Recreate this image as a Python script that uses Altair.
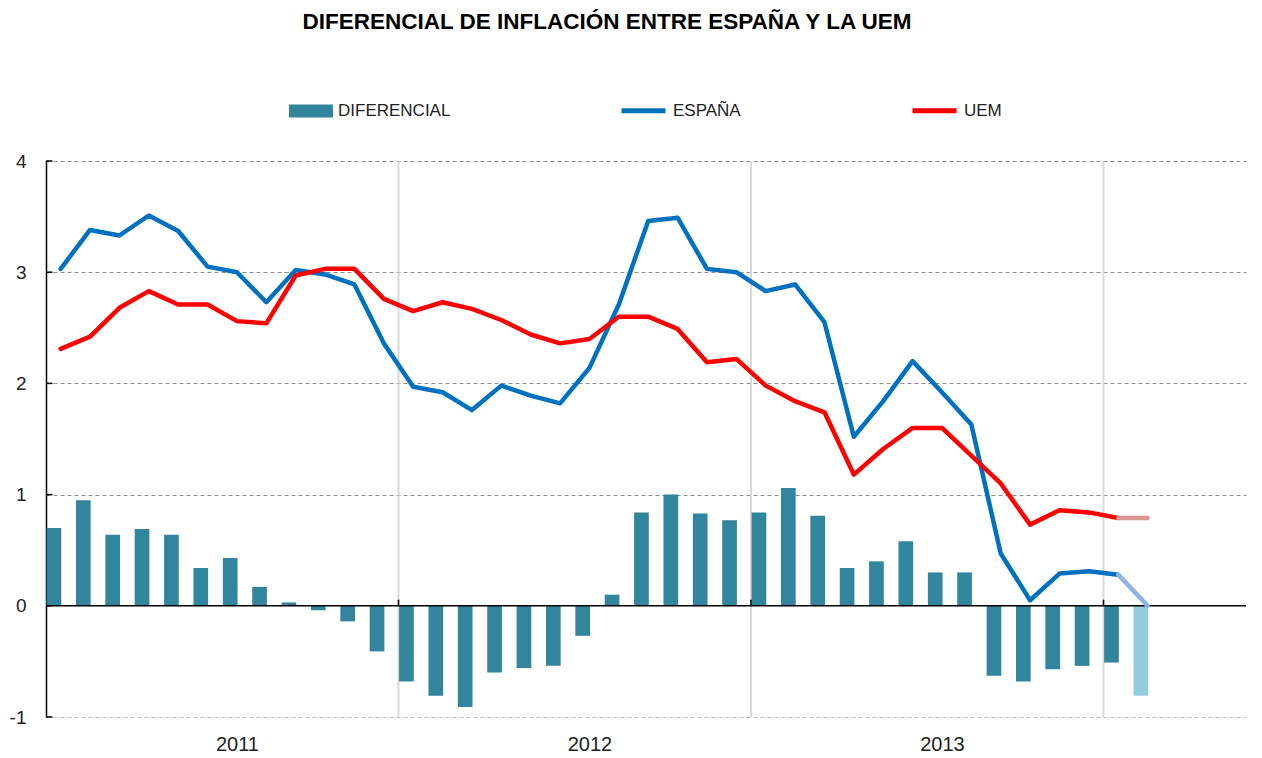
import altair as alt
import pandas as pd

# ---- data ----
meses = pd.date_range("2011-01-01", periods=38, freq="MS").strftime("%Y-%m").tolist()
anios = ["2011", "2012", "2013"]
espana = [3.03, 3.38, 3.33, 3.51, 3.37, 3.05, 3.00, 2.73, 3.02, 2.98, 2.89, 2.36,
          1.97, 1.92, 1.76, 1.98, 1.89, 1.82, 2.14, 2.71, 3.46, 3.49, 3.03, 3.00,
          2.83, 2.89, 2.55, 1.52, 1.84, 2.20, 1.92, 1.63, 0.47, 0.05, 0.29, 0.31,
          0.28, 0.00]
uem = [2.31, 2.42, 2.68, 2.83, 2.71, 2.71, 2.56, 2.54, 2.97, 3.03, 3.03, 2.76,
       2.65, 2.73, 2.67, 2.57, 2.44, 2.36, 2.40, 2.60, 2.60, 2.49, 2.19, 2.22,
       1.98, 1.84, 1.74, 1.18, 1.41, 1.60, 1.60, 1.35, 1.10, 0.73, 0.86, 0.84,
       0.79, 0.79]
diferencial = [0.70, 0.95, 0.64, 0.69, 0.64, 0.34, 0.43, 0.17, 0.03, -0.04, -0.14, -0.41,
               -0.68, -0.81, -0.91, -0.60, -0.56, -0.54, -0.27, 0.10, 0.84, 1.00, 0.83, 0.77,
               0.84, 1.06, 0.81, 0.34, 0.40, 0.58, 0.30, 0.30, -0.63, -0.68, -0.57, -0.54,
               -0.51, -0.81]
prevision = [False] * 37 + [True]
limites_anio = [12, 24, 36]
y_ticks = [-1, 0, 1, 2, 3, 4]

FONT = "Liberation Sans"
N = len(meses)
df = pd.DataFrame({"i": list(range(N)), "mes": meses, "ESPAÑA": espana, "UEM": uem,
                   "DIFERENCIAL": diferencial, "prev": prevision})

DOM_X = 40.85
xs = alt.Scale(domain=[0, DOM_X], nice=False, zero=False)
ys = alt.Scale(domain=[-1, 4], nice=False, zero=False)

label_expr = "datum.value < 12 ? '%s' : datum.value < 24 ? '%s' : '%s'" % tuple(anios)
x_axis = alt.Axis(values=[6.5, 18.5, 30.5], labelExpr=label_expr, title=None, grid=False,
                  domain=False, ticks=False, labelPadding=17, labelFont=FONT,
                  labelFontSize=20, labelColor="#222222")
y_axis = alt.Axis(values=y_ticks, labelExpr="'' + datum.value", title=None,
                  domain=True, domainColor="black", domainWidth=1.5, ticks=False,
                  labelPadding=20, labelFont=FONT, labelFontSize=19, labelColor="#222222",
                  grid=True, gridDash=[4, 3], gridWidth=1.2,
                  gridColor={"condition": {"test": "datum.value === -1", "value": "#BFBFBF"},
                             "value": "#8C8C8C"},
                  gridOpacity={"condition": {"test": "datum.value === 0", "value": 0},
                               "value": 1})


def X(field, axis=False):
    if axis:
        return alt.X(field, scale=xs, title=None, axis=x_axis)
    return alt.X(field, scale=xs, title=None)


def Y(field, axis=False):
    if axis:
        return alt.Y(field, scale=ys, title=None, axis=y_axis)
    return alt.Y(field, scale=ys, title=None)


# invisible layer carrying both axes
axes_carrier = alt.Chart(pd.DataFrame({"v": y_ticks})).mark_point(opacity=0).encode(
    x=X("xx:Q", axis=True), y=Y("v:Q", axis=True)).transform_calculate(xx="0")

sep = alt.Chart(pd.DataFrame({"x": limites_anio})).mark_rule(
    color="#D9D9D9", strokeWidth=2).encode(x=X("x:Q"))

bars = alt.Chart(df).transform_filter("!datum.prev").transform_calculate(
    serie="'DIFERENCIAL'", x0="datum.i + 0.02", x1="datum.i + 0.52"
).mark_bar().encode(
    x=X("x0:Q"),
    x2="x1:Q",
    y=Y("DIFERENCIAL:Q"),
    y2=alt.datum(0),
    fill=alt.Fill("serie:N", scale=alt.Scale(domain=["DIFERENCIAL"], range=["#31859C"]),
                  legend=alt.Legend(title=None, orient="none", legendX=243, legendY=-72,
                                    symbolType="M-1,-0.3H1V0.3H-1Z", symbolSize=1936,
                                    symbolStrokeWidth=0, labelFont=FONT, labelFontSize=17,
                                    labelColor="#222222", labelOffset=5)),
)

bar_prev = alt.Chart(df).transform_filter("datum.prev").transform_calculate(
    x0="datum.i + 0.02", x1="datum.i + 0.52"
).mark_bar(color="#93CDDD").encode(
    x=X("x0:Q"), x2="x1:Q", y=Y("DIFERENCIAL:Q"), y2=alt.datum(0))

zero = alt.Chart(pd.DataFrame({"y": [0]})).mark_rule(color="black", strokeWidth=1.5).encode(
    y=Y("y:Q"))

year_ticks = alt.Chart(pd.DataFrame({"x": limites_anio})).mark_rule(
    color="black", strokeWidth=1.5).encode(
    x=X("x:Q"), y=alt.datum(0), y2=alt.datum(0.055))

y_inner_ticks = alt.Chart(pd.DataFrame({"v": y_ticks})).mark_rule(
    color="black", strokeWidth=1.5).encode(
    y=Y("v:Q"), x=alt.datum(0), x2=alt.datum(0.22))

lines = alt.Chart(df).transform_filter("!datum.prev").transform_fold(
    ["ESPAÑA", "UEM"], as_=["serie", "valor"]
).transform_calculate(xm="datum.i + 0.5").mark_line(
    strokeWidth=4.5, strokeJoin="round", strokeCap="round").encode(
    x=X("xm:Q"),
    y=Y("valor:Q"),
    stroke=alt.Stroke("serie:N", scale=alt.Scale(domain=["ESPAÑA", "UEM"],
                                                 range=["#0070C0", "#FF0000"]),
                      legend=alt.Legend(title=None, orient="none", legendX=573, legendY=-75,
                                        direction="horizontal", symbolType="stroke",
                                        symbolSize=1936, symbolStrokeWidth=5,
                                        columnPadding=161, labelFont=FONT,
                                        labelFontSize=17, labelColor="#222222",
                                        labelOffset=5)),
    detail="serie:N",
)


def forecast(serie, color):
    return alt.Chart(df).transform_filter("datum.i >= %d" % (N - 2)).transform_calculate(
        xm="datum.i + 0.5").mark_line(strokeWidth=4.5, strokeCap="round", color=color).encode(
        x=X("xm:Q"), y=Y("%s:Q" % serie))


prev_es = forecast("ESPAÑA", "#8DB4E2")
prev_uem = forecast("UEM", "#D99694")

chart = alt.layer(axes_carrier, sep, bars, bar_prev, zero, year_ticks, y_inner_ticks,
                  lines, prev_es, prev_uem).resolve_legend(
    fill="independent", stroke="independent"
).properties(
    width=1200, height=556,
    padding={"left": 1, "top": 2, "right": 0, "bottom": 0},
    title=alt.TitleParams("DIFERENCIAL DE INFLACIÓN ENTRE ESPAÑA Y LA UEM", font=FONT,
                          fontSize=22.5, fontWeight="bold", color="black", anchor="middle",
                          offset=53, dx=-39),
).configure_view(stroke=None)

chart.save("out.html", embed_options={"renderer": "svg", "actions": False})
